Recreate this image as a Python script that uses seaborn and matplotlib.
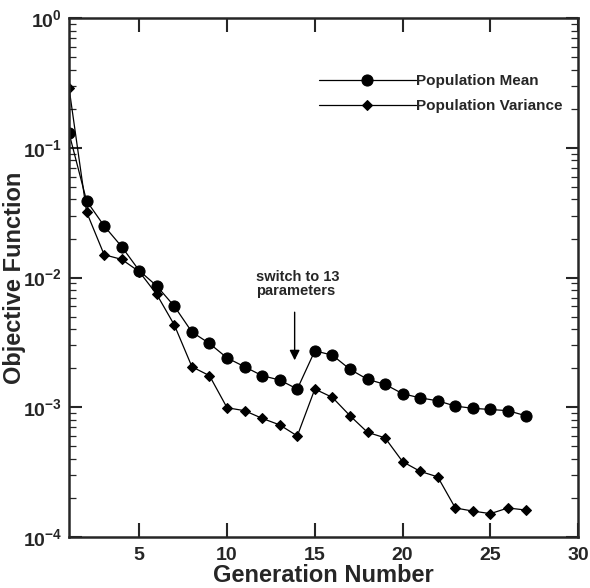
import matplotlib
matplotlib.use("Agg")
import matplotlib.pyplot as plt
import seaborn as sns
import numpy as np
import pandas as pd
from matplotlib.ticker import LogLocator, FixedLocator, NullFormatter

generation = list(range(1, 28))
pop_mean = [0.130, 0.039, 0.025, 0.0173, 0.0113, 0.0086, 0.0060, 0.0038, 0.0031, 0.0024,
            0.00205, 0.00175, 0.00162, 0.00138, 0.00272, 0.00252, 0.00196, 0.00164, 0.00150,
            0.00127, 0.00118, 0.00112, 0.00102, 0.00098, 0.00096, 0.00094, 0.00086]
pop_var = [0.29, 0.032, 0.015, 0.0138, 0.0111, 0.0074, 0.0043, 0.00205, 0.00175, 0.00099,
           0.00094, 0.00082, 0.00073, 0.00060, 0.00138, 0.00119, 0.00086, 0.00064, 0.00058,
           0.00038, 0.00032, 0.00029, 0.000167, 0.000158, 0.000151, 0.000167, 0.000161]
series_names = ["Population Mean", "Population Variance"]
xticks = [5, 10, 15, 20, 25, 30]
yticks = [1e-4, 1e-3, 1e-2, 1e-1, 1e0]
ytick_labels = ["$\\mathbf{10^{-4}}$", "$\\mathbf{10^{-3}}$", "$\\mathbf{10^{-2}}$",
                "$\\mathbf{10^{-1}}$", "$\\mathbf{10^{0}}$"]

sns.set_style("ticks")
plt.rcParams['font.family'] = ['Liberation Sans', 'DejaVu Sans']
plt.rcParams['mathtext.fontset'] = 'custom'
plt.rcParams['mathtext.bf'] = 'Liberation Sans:bold'
plt.rcParams['mathtext.rm'] = 'Liberation Sans'

fig = plt.figure(figsize=(5.9, 5.88), dpi=100)
ax = fig.add_axes([0.117, 0.087, 0.863, 0.882])

df = pd.DataFrame({"gen": generation, "mean": pop_mean, "var": pop_var})
sns.lineplot(data=df, x="gen", y="mean", ax=ax, color="black", lw=0.9,
             marker="o", markersize=8, markeredgecolor="black", label=series_names[0])
sns.lineplot(data=df, x="gen", y="var", ax=ax, color="black", lw=0.9,
             marker="D", markersize=5.5, markeredgecolor="black", label=series_names[1])

ax.set_yscale("log")
ax.set_xlim(1, 30)
ax.set_ylim(1e-4, 1e0)
ax.xaxis.set_major_locator(FixedLocator(xticks))
ax.set_xticklabels([str(t) for t in xticks], fontweight="bold", fontsize=14)
ax.set_yticks(yticks)
ax.set_yticklabels(ytick_labels, fontsize=14)
ax.yaxis.set_minor_locator(LogLocator(base=10, subs=np.arange(2, 10)))
ax.yaxis.set_minor_formatter(NullFormatter())

ax.tick_params(axis="x", which="major", direction="in", length=10, width=1.5,
               top=True, bottom=True, pad=7)
ax.tick_params(axis="y", which="major", direction="in", length=9, width=1.5,
               left=True, right=True, pad=5)
ax.tick_params(axis="y", which="minor", direction="in", length=5, width=0.9,
               left=True, right=True)
for s in ax.spines.values():
    s.set_linewidth(1.8)
    s.set_visible(True)

ax.set_xlabel("Generation Number", fontsize=17, fontweight="bold", labelpad=0)
ax.set_ylabel("Objective Function", fontsize=17, fontweight="bold", labelpad=-2.5)

leg = ax.legend(loc="upper left", bbox_to_anchor=(0.49, 0.892), frameon=False,
                fontsize=11, handlelength=6.4, handletextpad=0.0, labelspacing=0.7,
                borderpad=0, borderaxespad=0)
for t in leg.get_texts():
    t.set_fontweight("bold")

ax.annotate("", xy=(13.85, 2.3e-3), xytext=(13.85, 5.4e-3),
            arrowprops=dict(arrowstyle="-|>", color="black", lw=1.0,
                            mutation_scale=15, shrinkA=0, shrinkB=0))
ax.text(11.65, 8.9e-3, "switch to 13\nparameters", fontsize=10.5, fontweight="bold",
        ha="left", va="center", linespacing=1.0)

fig.savefig("out.png", dpi=100)
